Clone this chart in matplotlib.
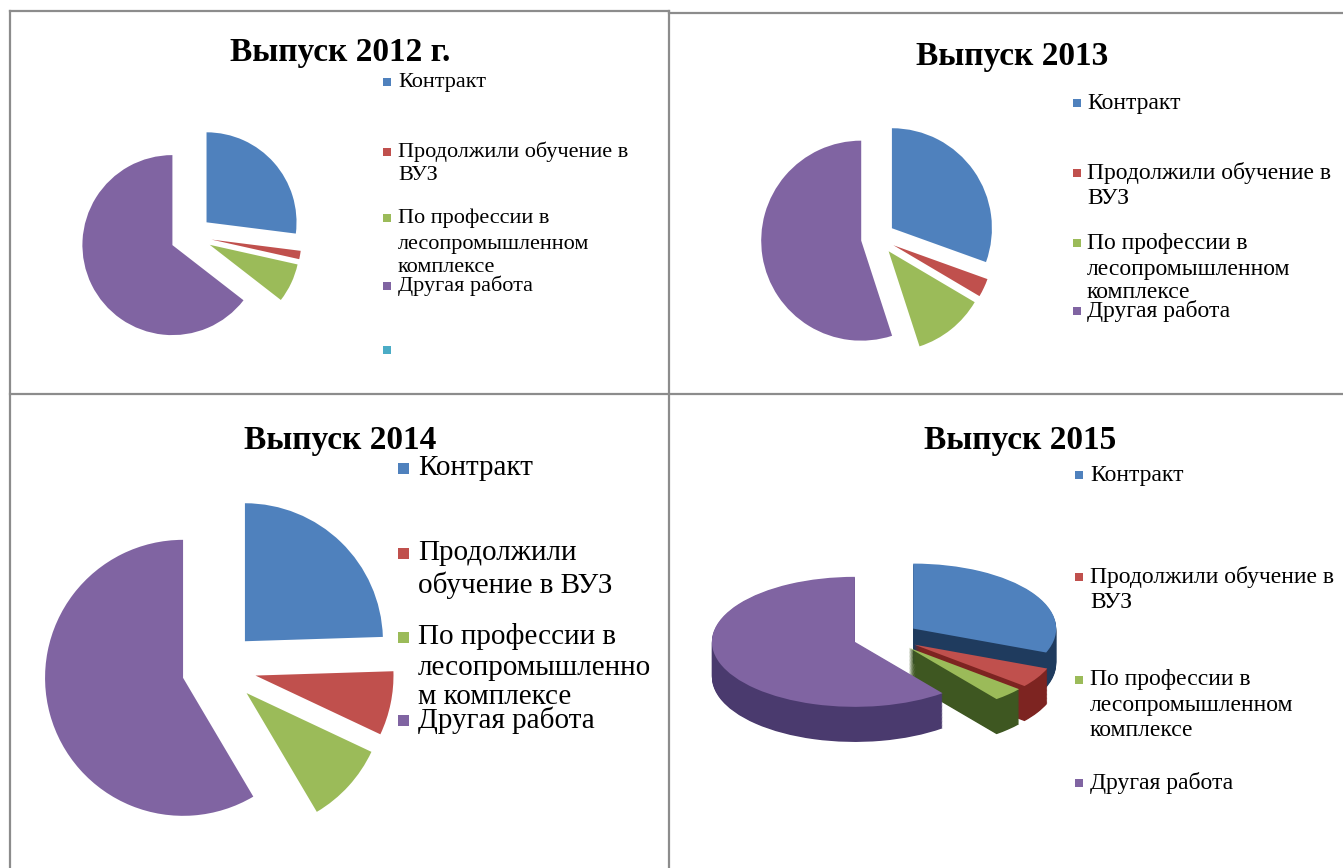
"""
Выпуск выпускников 2012-2015: распределение по трудоустройству.
Четыре круговые диаграммы (2015 - объемная).
"""

import numpy as np
import matplotlib
matplotlib.use("Agg")
import matplotlib.pyplot as plt
from matplotlib.patches import Rectangle
from matplotlib.lines import Line2D

# -----------------------------
# Data
# -----------------------------

CATEGORIES = [
    "Контракт",
    "Продолжили обучение в ВУЗ",
    "По профессии в лесопромышленном комплексе",
    "Другая работа",
]

VALUES_2012 = [27, 1.5, 7, 64.5]
VALUES_2013 = [30.5, 3, 11.5, 55]
VALUES_2014 = [24.5, 7.5, 9.5, 58.5]
VALUES_2015 = [31, 5, 3.5, 60.5]

TITLES = ["Выпуск 2012 г.", "Выпуск 2013", "Выпуск 2014", "Выпуск 2015"]

# legend text as it is wrapped in each chart
LEGEND_2012 = [["Контракт"], ["Продолжили обучение в", "ВУЗ"],
               ["По профессии в", "лесопромышленном", "комплексе"],
               ["Другая работа"], [""]]
LEGEND_2013 = [["Контракт"], ["Продолжили обучение в", "ВУЗ"],
               ["По профессии в", "лесопромышленном", "комплексе"],
               ["Другая работа"]]
LEGEND_2014 = [["Контракт"], ["Продолжили", "обучение в ВУЗ"],
               ["По профессии в", "лесопромышленно", "м комплексе"],
               ["Другая работа"]]
LEGEND_2015 = LEGEND_2013

# -----------------------------
# Style
# -----------------------------

W, H = 1343, 868
COLORS = ["#4f81bd", "#c0504d", "#9bbb59", "#8064a2"]
SIDE_COLORS = ["#1f3b5e", "#7d2421", "#3e5721", "#4a3a6e"]
EXTRA_COLOR = "#4bacc6"
BORDER = "#8c8c8c"
SERIF = "Liberation Serif"


def fx(x):
    return x / W


def fy(y):
    return 1 - y / H


def pie_axes(fig, cx, cy, sx, sy, lim=2.0):
    # axes whose data origin sits on pixel (cx, cy), sx/sy pixels per unit
    ax = fig.add_axes([
        fx(cx - lim * sx),
        fy(cy + lim * sy),
        2 * lim * sx / W,
        2 * lim * sy / H,
    ])
    return ax, lim


def finish_axes(ax, lim):
    ax.set_xlim(-lim, lim)
    ax.set_ylim(-lim, lim)
    ax.set_aspect("auto")
    ax.axis("off")


def draw_pie(fig, values, cx, cy, radius, explode):
    ax, lim = pie_axes(fig, cx, cy, radius, radius)
    ax.pie(
        values,
        colors=COLORS,
        explode=[explode] * len(values),
        startangle=90,
        counterclock=False,
        wedgeprops=dict(linewidth=0),
    )
    finish_axes(ax, lim)


def draw_pie_3d(fig, values, cx, cy, sx, sy, explode, depth, layers=45):
    ax, lim = pie_axes(fig, cx, cy, sx, sy, lim=2.2)
    for d in np.linspace(-depth, 0, layers)[:-1]:
        ax.pie(
            values,
            colors=SIDE_COLORS,
            explode=[explode] * len(values),
            startangle=90,
            counterclock=False,
            center=(0, d),
            wedgeprops=dict(linewidth=0),
        )
    ax.pie(
        values,
        colors=COLORS,
        explode=[explode] * len(values),
        startangle=90,
        counterclock=False,
        center=(0, 0),
        wedgeprops=dict(linewidth=0),
    )
    finish_axes(ax, 2.2)


def draw_legend(fig, entries, colors, x_sq, x_txt, rows, fontsize, sq):
    for lines, color, ys in zip(entries, colors, rows):
        fig.patches.append(Rectangle(
            (fx(x_sq), fy(ys[0] + sq / 2)), sq / W, sq / H,
            transform=fig.transFigure, color=color, linewidth=0,
        ))
        for line, y in zip(lines, ys):
            fig.text(fx(x_txt), fy(y), line, fontsize=fontsize,
                     family=SERIF, va="center", ha="left")


def draw_title(fig, text, x, y):
    fig.text(fx(x), fy(y), text, fontsize=24, fontweight="bold",
             family=SERIF, ha="center", va="center")


def draw_borders(fig):
    segments = [
        ((10, 11), (10, 868)),
        ((10, 11), (669, 11)),
        ((669, 13), (1343, 13)),
        ((669, 11), (669, 868)),
        ((10, 394), (1343, 394)),
    ]
    for (x0, y0), (x1, y1) in segments:
        fig.add_artist(Line2D([fx(x0), fx(x1)], [fy(y0), fy(y1)],
                              transform=fig.transFigure,
                              color=BORDER, linewidth=1.6))


def main():
    fig = plt.figure(figsize=(W / 100, H / 100), dpi=100)
    fig.patch.set_facecolor("white")

    draw_borders(fig)

    # 2012
    draw_title(fig, TITLES[0], 340, 52)
    draw_pie(fig, VALUES_2012, 191, 236, 90, 0.23)
    draw_legend(fig, LEGEND_2012, COLORS + [EXTRA_COLOR], 383, 398,
                [[82], [152, 175], [218, 244, 268], [286], [350]],
                fontsize=16, sq=8)

    # 2013
    draw_title(fig, TITLES[1], 1012, 57)
    draw_pie(fig, VALUES_2013, 878, 238, 100, 0.17)
    draw_legend(fig, LEGEND_2013, COLORS, 1073, 1087,
                [[103], [173, 199], [243, 269, 293], [311]],
                fontsize=17, sq=8)

    # 2014
    draw_title(fig, TITLES[2], 340, 440)
    draw_pie(fig, VALUES_2014, 219, 668, 138, 0.27)
    draw_legend(fig, LEGEND_2014, COLORS, 398, 418,
                [[468], [553, 585], [637, 668, 697], [720]],
                fontsize=21, sq=11)

    # 2015 (3D)
    draw_title(fig, TITLES[3], 1020, 440)
    draw_pie_3d(fig, VALUES_2015, 886, 637, 143, 65, 0.23, 0.54)
    draw_legend(fig, LEGEND_2015, COLORS, 1075, 1090,
                [[475], [577, 603], [680, 706, 731], [783]],
                fontsize=17, sq=8)

    fig.savefig("out.png", dpi=100, facecolor="white")
    plt.close(fig)


if __name__ == "__main__":
    main()
